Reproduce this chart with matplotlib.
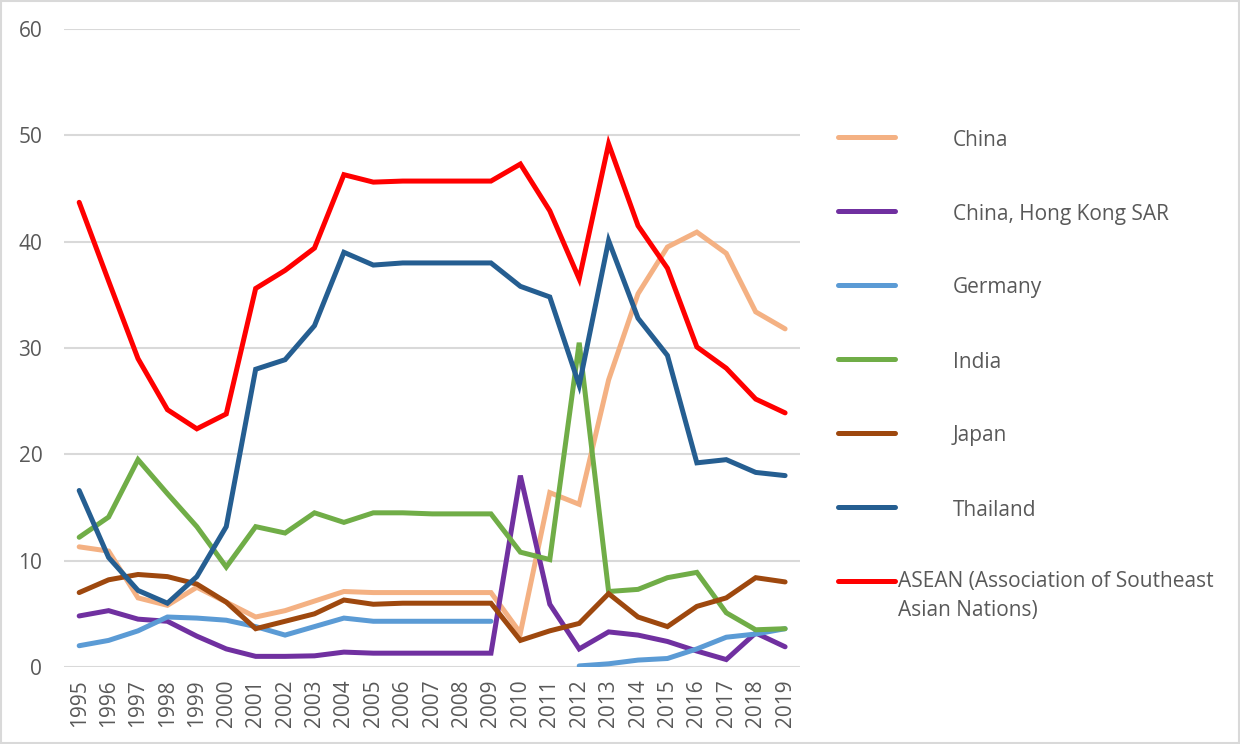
import numpy as np
import matplotlib.pyplot as plt
from matplotlib.lines import Line2D
from matplotlib.patches import Rectangle

plt.rcParams['font.family'] = ['Open Sans', 'DejaVu Sans']

years = [str(y) for y in range(1995, 2020)]

china = [11.3, 10.9, 6.5, 5.8, 7.5, 6.1, 4.7, 5.3, 6.2, 7.1, 7.0, 7.0, 7.0, 7.0, 7.0,
         3.2, 16.4, 15.3, 27.0, 35.1, 39.5, 40.9, 38.9, 33.4, 31.8]
hong_kong = [4.8, 5.3, 4.5, 4.3, 2.9, 1.7, 1.0, 1.0, 1.05, 1.4, 1.3, 1.3, 1.3, 1.3, 1.3,
             18.0, 5.9, 1.7, 3.3, 3.0, 2.4, 1.5, 0.7, 3.2, 1.9]
germany = [2.0, 2.5, 3.4, 4.7, 4.6, 4.4, 3.8, 3.0, 3.8, 4.6, 4.3, 4.3, 4.3, 4.3, 4.3,
           np.nan, np.nan, 0.1, 0.3, 0.65, 0.8, 1.7, 2.8, 3.1, 3.6]
india = [12.2, 14.1, 19.5, 16.3, 13.2, 9.4, 13.2, 12.6, 14.5, 13.6, 14.5, 14.5, 14.4, 14.4, 14.4,
         10.8, 10.1, 30.5, 7.1, 7.3, 8.4, 8.9, 5.1, 3.5, 3.6]
japan = [7.0, 8.2, 8.7, 8.5, 7.8, 6.1, 3.6, 4.3, 5.0, 6.3, 5.9, 6.0, 6.0, 6.0, 6.0,
         2.5, 3.4, 4.1, 6.9, 4.7, 3.8, 5.7, 6.5, 8.4, 8.0]
thailand = [16.6, 10.3, 7.2, 6.0, 8.5, 13.2, 28.0, 28.9, 32.1, 39.0, 37.8, 38.0, 38.0, 38.0, 38.0,
            35.8, 34.8, 26.5, 40.1, 32.8, 29.3, 19.2, 19.5, 18.3, 18.0]
asean = [43.7, 36.3, 29.0, 24.2, 22.4, 23.8, 35.6, 37.3, 39.4, 46.3, 45.6, 45.7, 45.7, 45.7, 45.7,
         47.3, 42.9, 36.5, 49.2, 41.5, 37.5, 30.1, 28.1, 25.2, 23.9]

names = ['China', 'China, Hong Kong SAR', 'Germany', 'India', 'Japan', 'Thailand',
         'ASEAN (Association of Southeast\nAsian Nations)']
series = [china, hong_kong, germany, india, japan, thailand, asean]
colors = ['#F4B183', '#7030A0', '#5B9BD5', '#70AD47', '#9E480E', '#255E91', '#FF0000']

grey = '#595959'
fs = 15

fig = plt.figure(figsize=(12.4, 7.44), dpi=100)
ax = fig.add_axes([0.052, 0.1035, 0.593, 0.8575])

x = np.arange(len(years))
for vals, c in zip(series, colors):
    ax.plot(x, vals, color=c, lw=3.6, solid_capstyle='round', solid_joinstyle='miter')

ax.set_xlim(-0.5, len(years) - 0.5)
ax.set_ylim(0, 60)
ax.set_yticks(range(0, 61, 10))
ax.set_xticks(x)
ax.set_xticklabels(years, rotation=90)
ax.grid(axis='y', color='#d9d9d9', lw=1.5)
ax.set_axisbelow(True)
for s in ax.spines.values():
    s.set_visible(False)
ax.tick_params(length=0, colors=grey, labelsize=fs)
ax.tick_params(axis='y', pad=16)
ax.tick_params(axis='x', pad=9)

# legend drawn by hand on the right
W, H = 1240, 744
for i, (name, c) in enumerate(zip(names, colors)):
    yy = 1 - (137 + 74 * i) / H
    fig.add_artist(Line2D([838 / W, 895 / W], [yy, yy], color=c, lw=3.6,
                          solid_capstyle='round', transform=fig.transFigure))
    if i < 6:
        fig.text(953 / W, yy - 3 / H, name, color=grey, fontsize=fs, va='center', ha='left')
    else:
        fig.text(898 / W, yy + 10 / H, name, color=grey, fontsize=fs, va='top', ha='left',
                 linespacing=1.5)

fig.add_artist(Rectangle((0.001, 0.001), 0.998, 0.998, transform=fig.transFigure,
                         fill=False, edgecolor='#d9d9d9', lw=1.5))

fig.savefig('out.png', dpi=100)
